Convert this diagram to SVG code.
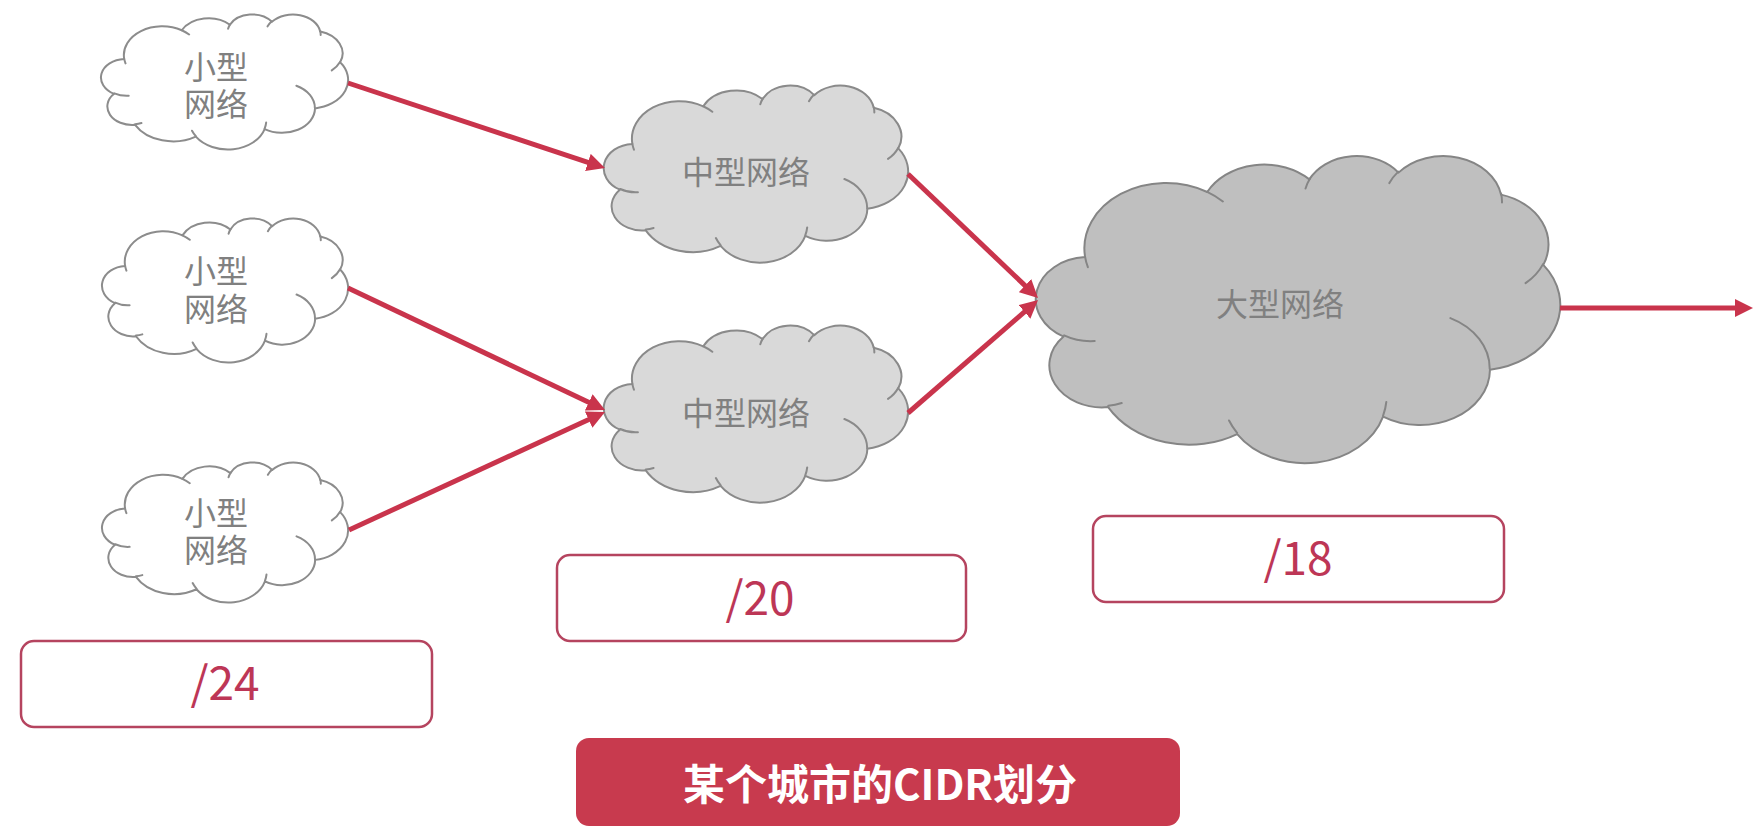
<svg xmlns="http://www.w3.org/2000/svg" xmlns:xlink="http://www.w3.org/1999/xlink" width="1758" height="834" viewBox="0 0 1758 834">
<style>
.cloud-out{vector-effect:non-scaling-stroke;stroke-width:2;stroke-linejoin:round}
.cloud-in{fill:none;vector-effect:non-scaling-stroke;stroke-width:2;stroke-linecap:round}
.small{fill:#ffffff;stroke:#8c8c8c}
.medium{fill:#d9d9d9;stroke:#8a8a8a}
.large{fill:#bfbfbf;stroke:#858585}
.lbl{font-family:"Noto Sans CJK SC","Noto Sans",sans-serif;font-size:32px;fill:#808080;text-anchor:middle;dominant-baseline:central}
.box{fill:#ffffff;stroke:#b5445f;stroke-width:2.5}
.mask{font-family:"Noto Sans CJK SC","Noto Sans",sans-serif;font-size:46px;fill:#bd3656;text-anchor:middle}
.title{fill:#c83a4e}
.ttl{font-family:"Noto Sans CJK SC","Noto Sans",sans-serif;font-size:42px;font-weight:bold;fill:#ffffff;text-anchor:middle;dominant-baseline:central}
.conn{stroke:#c9344c;stroke-width:5;fill:none}
</style>
<defs>
<marker id="ah" markerUnits="userSpaceOnUse" markerWidth="18" markerHeight="18" viewBox="0 0 18 18" refX="8" refY="9" orient="auto">
<path d="M0,0 L18,9 L0,18 z" fill="#c9344c"/>
</marker>
<symbol id="cloud" viewBox="0 0 43200 43200" preserveAspectRatio="none" style="overflow:visible">
<path class="cloud-out" d="M3900,14370 A6753,9190 0 0 1 14006,5203 A5333,7267 0 0 1 22457,3433 A4365,5945 0 0 1 29834,2482 A4857,6595 0 0 1 38319,5577 A5333,7273 0 0 1 41820,15461 A6775,9220 0 0 1 37405,30203 A5785,7867 0 0 1 28557,36814 A6752,9215 0 0 1 16482,39264 A7720,10543 0 0 1 5807,35471 A4360,5918 0 0 1 2116,25549 A4345,5945 0 0 1 3900,14370 Z"/>
<path class="cloud-in" d="M4693,26177 A4345,5945 0 0 1 2160,25380 M6928,34899 A4360,5918 0 0 1 5819,35281 M16478,39090 A6752,9215 0 0 1 15810,37351 M28827,34751 A6752,9215 0 0 1 28560,36661 M34129,22954 A5785,7867 0 0 1 37380,30090 M41798,15354 A5333,7273 0 0 1 40350,18030 M38324,5426 A4857,6595 0 0 1 38400,6689 M29078,3952 A4857,6595 0 0 1 29819,2341 M22141,4720 A4365,5945 0 0 1 22500,3330 M14000,5192 A6753,9190 0 0 1 15300,6541 M4127,15789 A6753,9190 0 0 1 3900,14370"/>
</symbol>
</defs>

<g id="small1">
<use href="#cloud" xlink:href="#cloud" class="small" x="102" y="14" width="246" height="135"/>
<text class="lbl" x="216" y="65"><tspan x="216" y="65">小型</tspan><tspan x="216" y="102">网络</tspan></text>
</g>
<g id="small2">
<use href="#cloud" xlink:href="#cloud" class="small" x="103" y="218" width="245" height="144"/>
<text class="lbl" x="216" y="269"><tspan x="216" y="269">小型</tspan><tspan x="216" y="307">网络</tspan></text>
</g>
<g id="small3">
<use href="#cloud" xlink:href="#cloud" class="small" x="103" y="462" width="245" height="140"/>
<text class="lbl" x="216" y="511"><tspan x="216" y="511">小型</tspan><tspan x="216" y="548">网络</tspan></text>
</g>
<g id="medium1">
<use href="#cloud" xlink:href="#cloud" class="medium" x="605" y="85" width="303" height="177"/>
<text class="lbl" x="746" y="170">中型网络</text>
</g>
<g id="medium2">
<use href="#cloud" xlink:href="#cloud" class="medium" x="605" y="325" width="303" height="177"/>
<text class="lbl" x="746" y="411">中型网络</text>
</g>
<g id="large">
<use href="#cloud" xlink:href="#cloud" class="large" x="1038" y="155" width="522" height="307"/>
<text class="lbl" x="1280" y="302">大型网络</text>
</g>

<g id="box24">
<rect class="box" x="21" y="641" width="411" height="86" rx="13"/>
<text class="mask" x="225" y="700">/24</text>
</g>
<g id="box20">
<rect class="box" x="557" y="555" width="409" height="86" rx="13"/>
<text class="mask" x="760" y="615">/20</text>
</g>
<g id="box18">
<rect class="box" x="1093" y="516" width="411" height="86" rx="13"/>
<text class="mask" x="1298" y="575">/18</text>
</g>
<g id="title">
<rect class="title" x="576" y="738" width="604" height="88" rx="13"/>
<text class="ttl" x="880" y="781">某个城市的CIDR划分</text>
</g>

<g id="connectors">
<line class="conn" x1="348" y1="83" x2="595.5" y2="164.9" marker-end="url(#ah)"/>
<line class="conn" x1="348" y1="288" x2="596" y2="405.7" marker-end="url(#ah)"/>
<line class="conn" x1="349" y1="530" x2="595.9" y2="416.2" marker-end="url(#ah)"/>
<line class="conn" x1="908" y1="174" x2="1030.8" y2="291.1" marker-end="url(#ah)"/>
<line class="conn" x1="908" y1="413" x2="1030.5" y2="306.6" marker-end="url(#ah)"/>
<line class="conn" x1="1560" y1="308" x2="1743" y2="308" marker-end="url(#ah)"/>
</g>
</svg>
